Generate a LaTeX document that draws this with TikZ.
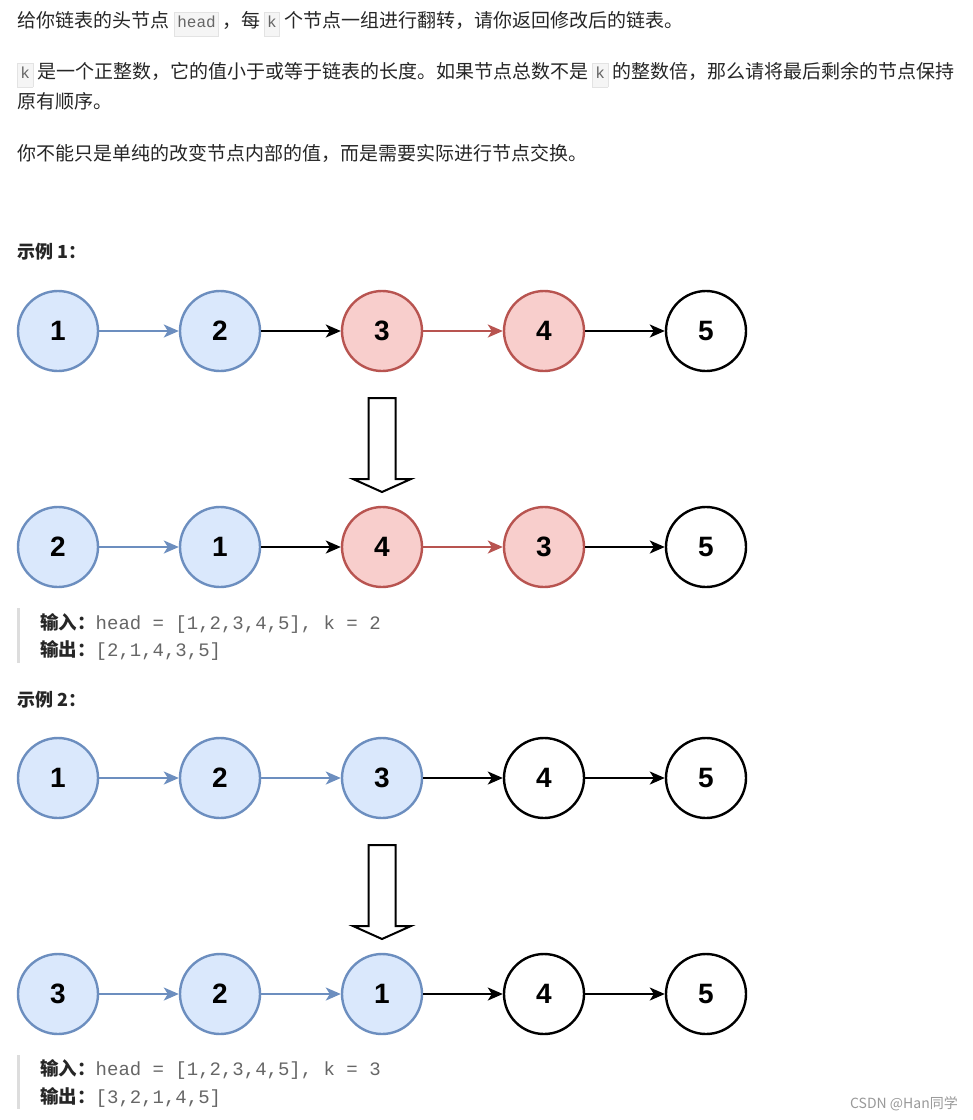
\documentclass[tikz,border=0pt]{standalone}
\usepackage{fontspec}
\setmainfont{Noto Sans CJK SC}
\setmonofont{Liberation Mono}
\newfontfamily\numfont{Liberation Sans}
\usetikzlibrary{arrows.meta, positioning}
\definecolor{bluefill}{HTML}{DAE8FC}
\definecolor{blueline}{HTML}{6C8EBF}
\definecolor{redfill}{HTML}{F8CECC}
\definecolor{redline}{HTML}{B85450}
\definecolor{bodytext}{HTML}{262626}
\definecolor{codegray}{HTML}{666666}
\definecolor{codebg}{HTML}{F5F5F5}
\definecolor{codeframe}{HTML}{E3E3E3}
\definecolor{barcol}{HTML}{DDDDDD}
\newcommand{\inlinecode}[1]{{\setlength{\fboxsep}{2.5pt}\setlength{\fboxrule}{0.7pt}\fcolorbox{codeframe}{codebg}{\color{codegray}\ttfamily\fontsize{16}{18}\selectfont\strut #1}}}
\newcommand{\codeval}[1]{{\color{codegray}\ttfamily\fontsize{19}{21}\selectfont #1}}
\tikzset{
    listnode/.style={circle, draw=black, line width=2.4pt, minimum size=80pt, inner sep=0pt, fill=white, font=\numfont\bfseries\fontsize{28}{30}\selectfont},
    bluenode/.style={listnode, draw=blueline, fill=bluefill},
    rednode/.style={listnode, draw=redline, fill=redfill},
    plainnode/.style={listnode},
    link/.style={-{Stealth[length=15pt, width=13pt, inset=4pt]}, line width=2pt, draw=black},
    bluelink/.style={link, draw=blueline},
    redlink/.style={link, draw=redline},
    desc/.style={anchor=west, inner sep=0pt, text=bodytext, font=\fontsize{19}{23}\selectfont},
    heading/.style={desc, font=\bfseries\fontsize{18}{22}\selectfont},
    quotebar/.style={draw=barcol, line width=3pt},
    turn/.pic={
        \draw[line width=2pt, fill=white, line join=miter]
            (-13.5,0) -- (13.5,0) -- (13.5,81) -- (29,81) -- (0,94) -- (-29,81) -- (-13.5,81) -- cycle;
    }
}

\begin{document}
\begin{tikzpicture}[x=1pt, y=-1pt]
    \useasboundingbox[fill=white] (0,0) rectangle (973,1120);

    % Problem text
    \node[desc] (line1) at (17,24) {给你链表的头节点\hspace{5pt}\inlinecode{head}\hspace{3pt}，每\hspace{4pt}\inlinecode{k}\hspace{4pt}个节点一组进行翻转，请你返回修改后的链表。};
    \node[desc] (line2) at (17,75) {\inlinecode{k}\hspace{4pt}是一个正整数，它的值小于或等于链表的长度。如果节点总数不是\hspace{4pt}\inlinecode{k}\hspace{4pt}的整数倍，那么请将最后剩余的节点保持};
    \node[desc] (line3) at (17,101) {原有顺序。};
    \node[desc] (line4) at (17,153) {你不能只是单纯的改变节点内部的值，而是需要实际进行节点交换。};

    % Example 1
    \node[heading] (ex1) at (17,252) {示例 1：};
    \foreach \i/\v/\s in {1/1/bluenode, 2/2/bluenode, 3/3/rednode, 4/4/rednode, 5/5/plainnode}
        \node[\s] (a\i) at ({58+162*(\i-1)},331) {\v};
    \foreach \a/\b/\s in {1/2/bluelink, 2/3/link, 3/4/redlink, 4/5/link}
        \draw[\s] (a\a) -- (a\b);

    \pic at (382,398) {turn};

    \foreach \i/\v/\s in {1/2/bluenode, 2/1/bluenode, 3/4/rednode, 4/3/rednode, 5/5/plainnode}
        \node[\s] (b\i) at ({58+162*(\i-1)},547) {\v};
    \foreach \a/\b/\s in {1/2/bluelink, 2/3/link, 3/4/redlink, 4/5/link}
        \draw[\s] (b\a) -- (b\b);

    \draw[quotebar] (18.5,608) -- (18.5,663);
    \node[desc, font=\fontsize{18.5}{22}\selectfont] (in1) at (40,623) {\textbf{输入：}\codeval{head = [1,2,3,4,5], k = 2}};
    \node[desc, font=\fontsize{18.5}{22}\selectfont] (out1) at (40,650) {\textbf{输出：}\codeval{[2,1,4,3,5]}};

    % Example 2
    \node[heading] (ex2) at (17,700) {示例 2：};
    \foreach \i/\v/\s in {1/1/bluenode, 2/2/bluenode, 3/3/bluenode, 4/4/plainnode, 5/5/plainnode}
        \node[\s] (c\i) at ({58+162*(\i-1)},778) {\v};
    \foreach \a/\b/\s in {1/2/bluelink, 2/3/bluelink, 3/4/link, 4/5/link}
        \draw[\s] (c\a) -- (c\b);

    \pic at (382,845) {turn};

    \foreach \i/\v/\s in {1/3/bluenode, 2/2/bluenode, 3/1/bluenode, 4/4/plainnode, 5/5/plainnode}
        \node[\s] (d\i) at ({58+162*(\i-1)},994) {\v};
    \foreach \a/\b/\s in {1/2/bluelink, 2/3/bluelink, 3/4/link, 4/5/link}
        \draw[\s] (d\a) -- (d\b);

    \draw[quotebar] (18.5,1055) -- (18.5,1109);
    \node[desc, font=\fontsize{18.5}{22}\selectfont] (in2) at (40,1069) {\textbf{输入：}\codeval{head = [1,2,3,4,5], k = 3}};
    \node[desc, font=\fontsize{18.5}{22}\selectfont] (out2) at (40,1097) {\textbf{输出：}\codeval{[3,2,1,4,5]}};

    \node[anchor=east, inner sep=0pt, text=gray!80, font=\fontsize{14}{16}\selectfont] (mark) at (958,1104) {CSDN @Han同学};
\end{tikzpicture}
\end{document}
